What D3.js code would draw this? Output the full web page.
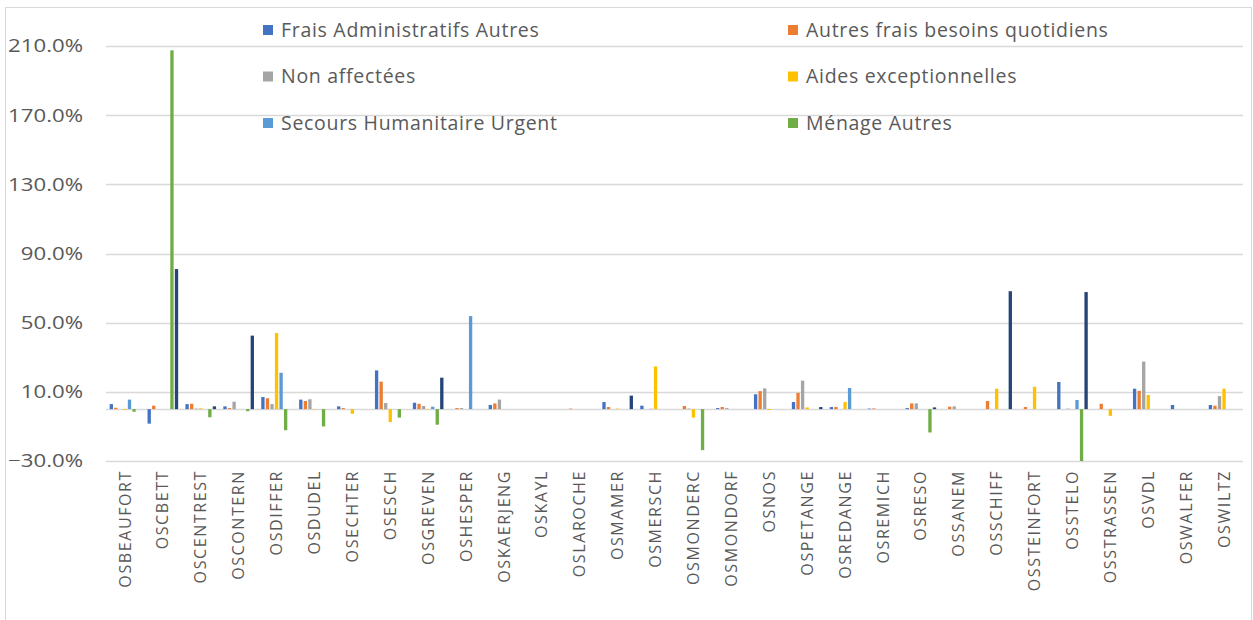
<!DOCTYPE html>
<html>
<head>
<meta charset="utf-8">
<script src="https://cdn.jsdelivr.net/npm/d3@7/dist/d3.min.js"></script>
<style>
  body { margin: 0; background: #fff; }
  svg { display: block; font-family: "Open Sans", "Liberation Sans", Arial, sans-serif; }
</style>
</head>
<body>
<svg id="chart" width="1253" height="620"></svg>
<script>
// offices on the x axis
const categories = ['OSBEAUFORT', 'OSCBETT', 'OSCENTREST', 'OSCONTERN', 'OSDIFFER', 'OSDUDEL',
  'OSECHTER', 'OSESCH', 'OSGREVEN', 'OSHESPER', 'OSKAERJENG', 'OSKAYL', 'OSLAROCHE', 'OSMAMER',
  'OSMERSCH', 'OSMONDERC', 'OSMONDORF', 'OSNOS', 'OSPETANGE', 'OSREDANGE', 'OSREMICH', 'OSRESO',
  'OSSANEM', 'OSSCHIFF', 'OSSTEINFORT', 'OSSTELO', 'OSSTRASSEN', 'OSVDL', 'OSWALFER', 'OSWILTZ'];

const seriesNames = ['Frais Administratifs Autres', 'Autres frais besoins quotidiens', 'Non affectées',
  'Aides exceptionnelles', 'Secours Humanitaire Urgent', 'Ménage Autres', 'Autres'];

// values in %
const fraisAdmin = [2.9, -8.4, 2.9, 1.6, 7.0, 5.5, 1.6, 22.4, 3.7, 0, 2.4, 0, 0, 4.1, 2.0, 0,
  0.6, 8.6, 4.1, 1.2, 0.3, 0.6, 0, 0, 0, 15.7, 0, 11.8, 2.4, 2.4];
const autresFrais = [0.8, 2.0, 3.1, 0.6, 6.3, 4.7, 0.6, 15.9, 3.1, 0.6, 3.3, 0, 0.3, 1.2, 0, 1.8,
  1.2, 10.4, 9.4, 1.2, 0.4, 3.3, 1.4, 4.7, 1.2, 0, 3.1, 10.6, 0, 2.0];
const nonAffectees = [0, 0, 0.3, 4.3, 2.9, 5.7, 0, 3.5, 1.8, 0.6, 5.5, 0, 0, 0, 0.2, 0.3,
  0.6, 12.0, 16.5, 0, 0, 3.3, 1.6, 0, 0, 0.3, 0, 27.5, 0, 7.5];
const aidesExcept = [-0.5, 0, 0.5, 0, 44.0, -0.3, -2.7, -7.5, -0.3, 0, 0, 0, 0, 0.3, 24.7, -4.9,
  0, -0.5, 1.0, 4.1, 0, 0, 0, 11.8, 12.9, 0, -3.9, 8.2, 0, 11.8];
const secours = [5.5, 0, 0, 0, 21.0, 0, 0, 0, 1.4, 53.8, 0, 0, 0, 0, 0, 0,
  0, 0, 0, 12.2, 0, 0, 0, 0, 0, 5.3, 0, 0, 0, 0];
const menageAutres = [-1.5, 207.5, -4.7, -1.2, -12.2, -10.0, 0, -4.9, -9.0, 0, 0, 0, 0, 0, 0, -23.7,
  0, 0, 0, 0, 0, -13.5, 0, 0, 0, -30.0, 0, 0, 0, 0];
const autres = [0, 81.0, 1.6, 42.5, 0, 0, 0, 0, 18.2, 0, 0, 0, 0, 7.8, 0, 0,
  0, 0, 1.2, 0, 0, 1.0, 0, 68.2, 0, 67.7, 0, 0, 0, 0];

const yTicks = [-30, 10, 50, 90, 130, 170, 210];

const allSeries = [fraisAdmin, autresFrais, nonAffectees, aidesExcept, secours, menageAutres, autres];
const colors = ['#4472C4', '#ED7D31', '#A5A5A5', '#FFC000', '#5B9BD5', '#70AD47', '#264478'];

const svg = d3.select('#chart');

// outer frame
svg.append('rect')
  .attr('x', 5.5).attr('y', 7.5)
  .attr('width', 1246).attr('height', 640)
  .attr('fill', 'none').attr('stroke', '#D9D9D9');

const x = d3.scaleBand().domain(categories).range([106, 1243]);
const xs = d3.scaleBand().domain(d3.range(allSeries.length)).range([0, x.bandwidth()])
  .paddingInner(0.27).paddingOuter(0.8);
const y = d3.scaleLinear().domain([-30, 210]).range([461, 46]);

// gridlines
svg.append('g').selectAll('line')
  .data(yTicks.concat([0]))
  .enter().append('line')
  .attr('x1', 106).attr('x2', 1243)
  .attr('y1', d => Math.round(y(d)) + 0.5)
  .attr('y2', d => Math.round(y(d)) + 0.5)
  .attr('stroke', '#D9D9D9')
  .attr('stroke-width', d => d === 0 ? 1.5 : 1.3);

// y labels (reference text is a bit wider than our fonts)
svg.append('g').selectAll('text')
  .data(yTicks)
  .enter().append('text')
  .attr('transform', d => `translate(83,${y(d)}) scale(1.2,1)`)
  .attr('dy', '0.35em')
  .attr('text-anchor', 'end')
  .attr('font-size', 18.5)
  .attr('fill', '#595959')
  .text(d => d3.format('.1f')(d) + '%');

// bars
const groups = svg.append('g').selectAll('g')
  .data(allSeries)
  .enter().append('g')
  .attr('fill', (d, i) => colors[i]);

groups.each(function (values, si) {
  d3.select(this).selectAll('rect')
    .data(values)
    .enter().append('rect')
    .attr('x', (d, i) => x(categories[i]) + xs(si))
    .attr('width', xs.bandwidth())
    .attr('y', d => y(Math.max(0, d)))
    .attr('height', d => Math.abs(y(d) - y(0)));
});

// x labels
svg.append('g').selectAll('text')
  .data(categories)
  .enter().append('text')
  .attr('transform', d => `translate(${x(d) + x.bandwidth() / 2},470) rotate(-90)`)
  .attr('dy', '0.35em')
  .attr('text-anchor', 'end')
  .attr('font-size', 16)
  .attr('letter-spacing', 1.6)
  .attr('fill', '#595959')
  .text(d => d);

// legend: two columns, six entries
const legend = svg.append('g').selectAll('g')
  .data(seriesNames.slice(0, 6))
  .enter().append('g')
  .attr('transform', (d, i) => `translate(${i % 2 === 0 ? 263 : 788},${30 + Math.floor(i / 2) * 46.5})`);

legend.append('rect')
  .attr('x', 0).attr('y', -5)
  .attr('width', 10).attr('height', 10)
  .attr('fill', (d, i) => colors[i]);

legend.append('text')
  .attr('x', 18)
  .attr('dy', '0.35em')
  .attr('font-size', 19.5)
  .attr('letter-spacing', 0.7)
  .attr('fill', '#595959')
  .text(d => d);
</script>
</body>
</html>
